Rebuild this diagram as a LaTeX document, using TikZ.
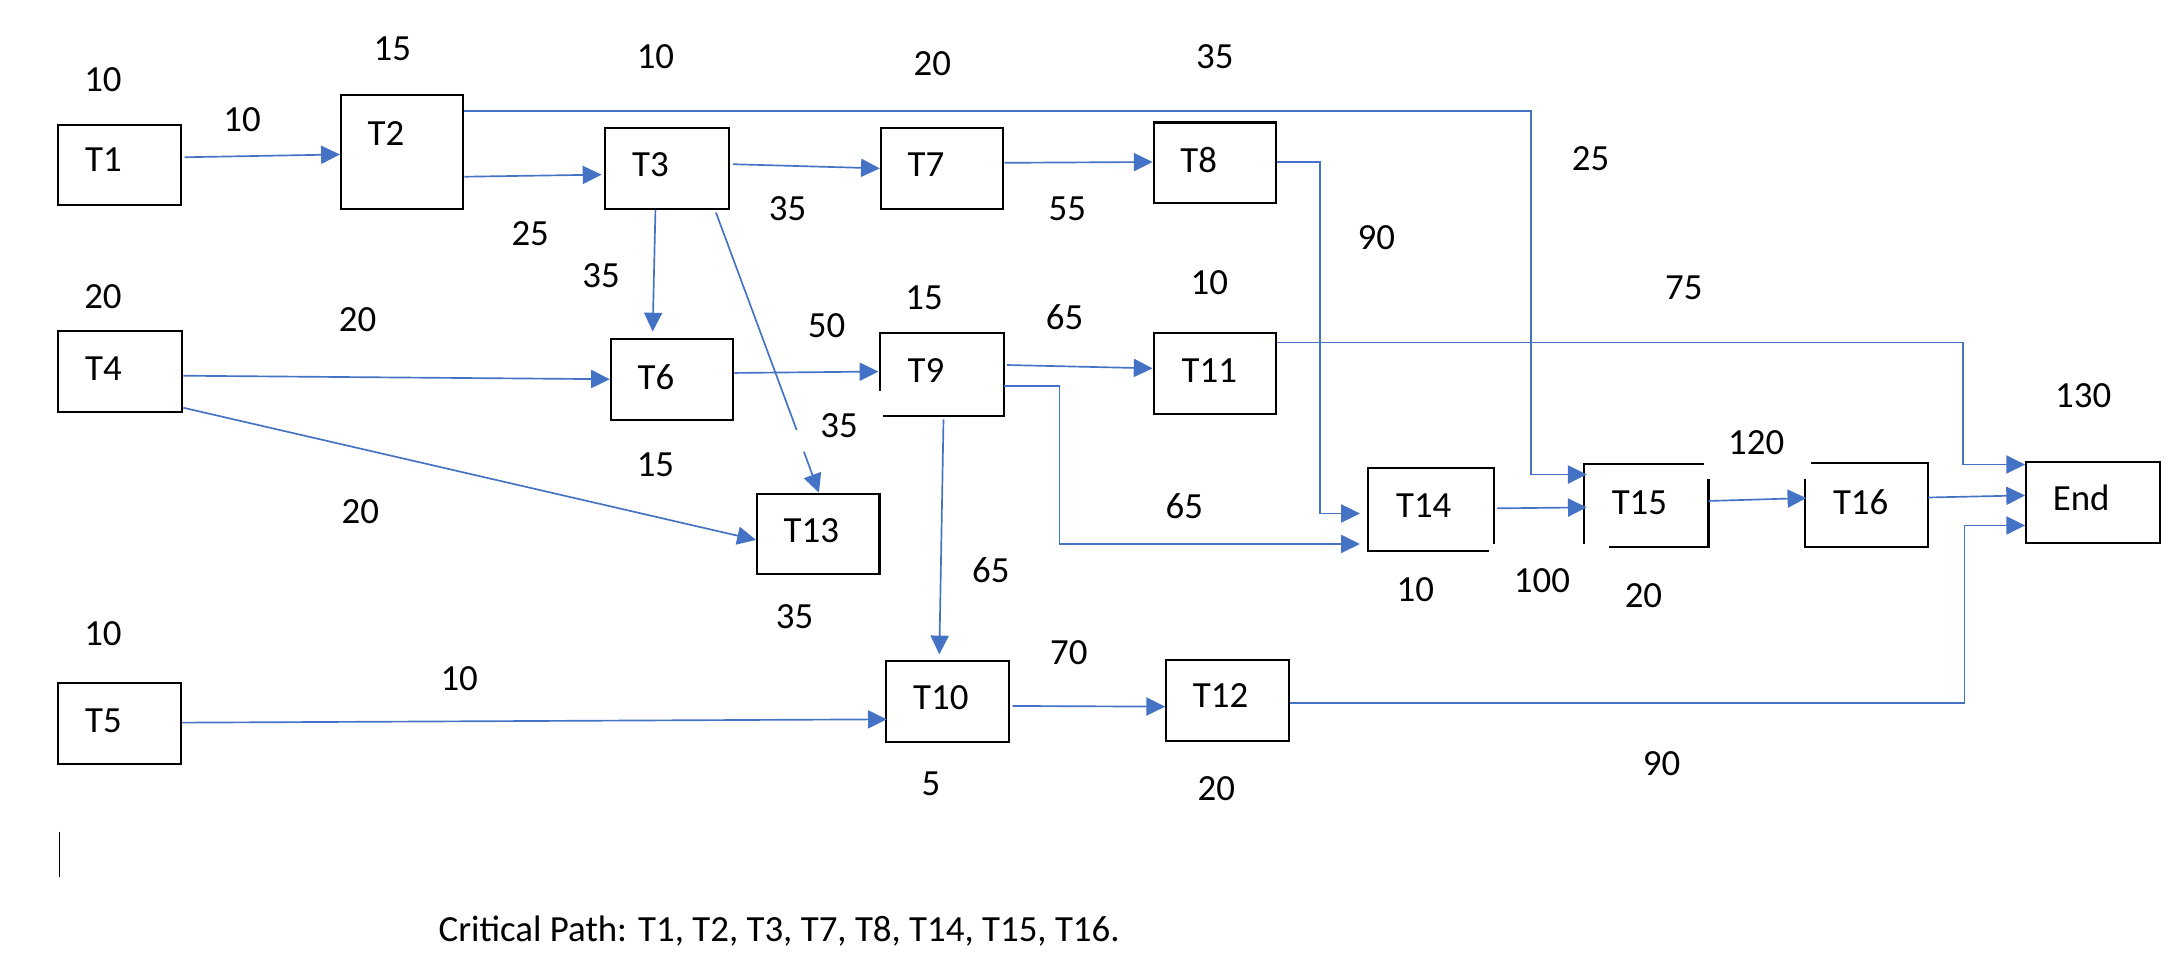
\documentclass[tikz,border=0pt]{standalone}
\usepackage{fontspec}
\setmainfont{Carlito}
\usetikzlibrary{arrows.meta}
\definecolor{myblue}{HTML}{4472C4}
\tikzset{
  box/.style={draw=black, line width=1.5pt, inner sep=0pt, minimum width=88pt, minimum height=58pt},
  boxnd/.style={box, draw=none},
  boxline/.style={draw=black, line width=1.5pt},
  tname/.style={anchor=west, inner sep=0pt},
  num/.style={inner sep=0pt},
  plainconn/.style={draw=myblue, line width=1.2pt},
  conn/.style={plainconn, -{Triangle[length=13.5pt,width=13pt]}},
  every node/.style={font=\fontsize{26.5}{30}\selectfont}
}
\begin{document}
\begin{tikzpicture}[x=1pt,y=-1pt]
\useasboundingbox (0,0) rectangle (1568,690);
% boxes
\node[box, minimum height=57pt] (T1) at (86,118.5) {};
\node[box, minimum height=82pt] (T2) at (289,109) {};
\node[box, minimum width=89pt] (T3) at (479.5,121) {};
\node[box] (T7) at (677,121) {};
\node[box] (T8) at (873,117) {};
\node[box, minimum width=89pt] (T4) at (86.5,267) {};
\node[box] (T6) at (483,272.5) {};
\node[boxnd] (T9) at (677,269) {};
\node[box] (T11) at (873,268.5) {};
\node[box] (T13) at (588,383.8) {};
\node[boxnd, minimum width=89pt] (T14) at (1028.5,366) {};
\node[boxnd] (T15) at (1183,363.5) {};
\node[boxnd, minimum width=87.2pt, minimum height=58.4pt] (T16) at (1341.4,362.9) {};
\node[box, minimum width=96pt] (End) at (1504,361) {};
\node[box] (T5) at (86,519.7) {};
\node[box] (T10) at (681,504.1) {};
\node[box] (T12) at (882,503.3) {};
% boxes drawn with gaps
\draw[boxline] ([yshift=17.7pt]T9.south west) -- (T9.north west) -- (T9.north east) -- (T9.south east) -- ([xshift=2.2pt]T9.south west);
\draw[boxline] ([yshift=4.5pt]T14.south east) -- (T14.north east) -- (T14.north west) -- (T14.south west) -- ([xshift=-4pt]T14.south east);
\draw[boxline] ([xshift=-3.5pt]T15.north east) -- (T15.north west) -- ([yshift=2.6pt]T15.south west);
\draw[boxline] ([yshift=-10.8pt]T15.north east) -- (T15.south east) -- ([xshift=18pt]T15.south west);
\draw[boxline] ([xshift=4.5pt]T16.north west) -- (T16.north east) -- (T16.south east) -- (T16.south west) -- ([yshift=-11.5pt]T16.north west);
% box names
\node[tname] (lT1) at (61,115) {T1};
\node[tname] (lT2) at (264,96) {T2};
\node[tname] (lT3) at (454,118) {T3};
\node[tname] (lT7) at (652,118) {T7};
\node[tname] (lT8) at (848,115) {T8};
\node[tname] (lT4) at (61,265) {T4};
\node[tname] (lT6) at (458,271) {T6};
\node[tname] (lT9) at (652,266) {T9};
\node[tname] (lT11) at (849,266) {T11};
\node[tname] (lT13) at (563,381) {T13};
\node[tname] (lT14) at (1003,363) {T14};
\node[tname] (lT15) at (1158,361) {T15};
\node[tname] (lT16) at (1317,361) {T16};
\node[tname] (lEnd) at (1475,358) {End};
\node[tname] (lT5) at (61,518) {T5};
\node[tname] (lT10) at (656,501) {T10};
\node[tname] (lT12) at (857,500) {T12};
% numbers
\node[num] (n1) at (74,57) {10};
\node[num] (n2) at (282,35) {15};
\node[num] (n3) at (471,41) {10};
\node[num] (n4) at (670,46) {20};
\node[num] (n5) at (873,41) {35};
\node[num] (n6) at (174,86) {10};
\node[num] (n7) at (381,168) {25};
\node[num] (n8) at (432,198) {35};
\node[num] (n9) at (566,150) {35};
\node[num] (n10) at (767,150) {55};
\node[num] (n11) at (989,171) {90};
\node[num] (n12) at (1143,114) {25};
\node[num] (n13) at (1210,207) {75};
\node[num] (n14) at (1497,284) {130};
\node[num] (n15) at (1262,318) {120};
\node[num] (n16) at (74,213) {20};
\node[num] (n17) at (257,230) {20};
\node[num] (n18) at (594,234) {50};
\node[num] (n19) at (664,214) {15};
\node[num] (n20) at (765,228) {65};
\node[num] (n21) at (869,203) {10};
\node[num] (n22) at (603,306) {35};
\node[num] (n23) at (471,334) {15};
\node[num] (n24) at (259,368) {20};
\node[num] (n25) at (851,364) {65};
\node[num] (n26) at (571,443) {35};
\node[num] (n27) at (712,410) {65};
\node[num] (n28) at (1017,424) {10};
\node[num] (n29) at (1108,417) {100};
\node[num] (n30) at (1181,428) {20};
\node[num] (n31) at (74,455) {10};
\node[num] (n32) at (330,488) {10};
\node[num] (n33) at (768,469) {70};
\node[num] (n34) at (669,563) {5};
\node[num] (n35) at (874,567) {20};
\node[num] (n36) at (1194,549) {90};
\node[anchor=west, inner sep=0pt] (cp) at (315,669) {Critical Path: T1, T2, T3, T7, T8, T14, T15, T16.};
% connectors
\draw[conn] ([xshift=2pt,yshift=5.5pt]T1.east) -- ([yshift=-2pt]T2.west);
\draw[conn] ([yshift=-18pt]T2.east) -- ([xshift=-2pt,yshift=-4.5pt]T3.west);
\draw[conn] ([yshift=29pt]T2.east) -- ++(766.5,0) |- ([xshift=2pt,yshift=22.5pt]T15.west);
\draw[conn] ([xshift=2pt,yshift=3pt]T3.east) -- (T7.west);
\draw[conn] ([xshift=-8.5pt]T3.south) -- ([xshift=-14pt,yshift=4.5pt]T6.north);
\coordinate (g1) at (572.5,309);
\coordinate (g2) at (577.7,324.6);
\draw[plainconn] ([xshift=35pt,yshift=-2pt]T3.south) -- (g1);
\draw[conn] (g2) -- ([xshift=0.5pt]T13.north);
\draw[conn] ([yshift=4pt]T7.east) -- ([yshift=0.6pt]T8.west);
\draw[conn] ([yshift=0.6pt]T8.east) -- ++(31,0) |- ([xshift=-6pt,yshift=-3pt]T14.west);
\draw[conn] ([yshift=-3pt]T4.east) -- (T6.west);
\draw[conn] ([yshift=-26pt]T4.east) -- ([yshift=-4.2pt]T13.west);
\draw[conn] ([yshift=4.5pt]T6.east) -- ([xshift=-1pt,yshift=2pt]T9.west);
\draw[conn] ([xshift=2pt,yshift=6.7pt]T9.east) -- ([yshift=3.8pt]T11.west);
\draw[conn] ([yshift=-8.4pt]T9.east) -- ++(39.5,0) |- ([xshift=-6pt,yshift=-24.9pt]T14.west);
\draw[conn] ([xshift=1pt,yshift=-2.6pt]T9.south) -- ([xshift=-6pt,yshift=4.1pt]T10.north);
\draw[conn] ([yshift=22.3pt]T11.east) -- ++(493,0) |- ([yshift=27.2pt]End.west);
\draw[conn] ([xshift=2pt,yshift=0.7pt]T14.east) -- ([xshift=2pt,yshift=-1.1pt]T15.west);
\draw[conn] ([yshift=3.5pt]T15.east) -- ([xshift=1pt,yshift=5pt]T16.west);
\draw[conn] ([yshift=5.4pt]T16.east) -- ([yshift=5pt]End.west);
\draw[conn] ([yshift=-2pt]T12.east) -- ++(485,0) |- ([yshift=-16.6pt]End.west);
\draw[conn] ([yshift=0.4pt]T5.east) -- ([xshift=1pt,yshift=-12.8pt]T10.west);
\draw[conn] ([xshift=2pt,yshift=-3.2pt]T10.east) -- ([yshift=-4.5pt]T12.west);
% stray cursor mark
\draw[line width=0.9pt] (43,597.6) -- (43,630);
\end{tikzpicture}
\end{document}
